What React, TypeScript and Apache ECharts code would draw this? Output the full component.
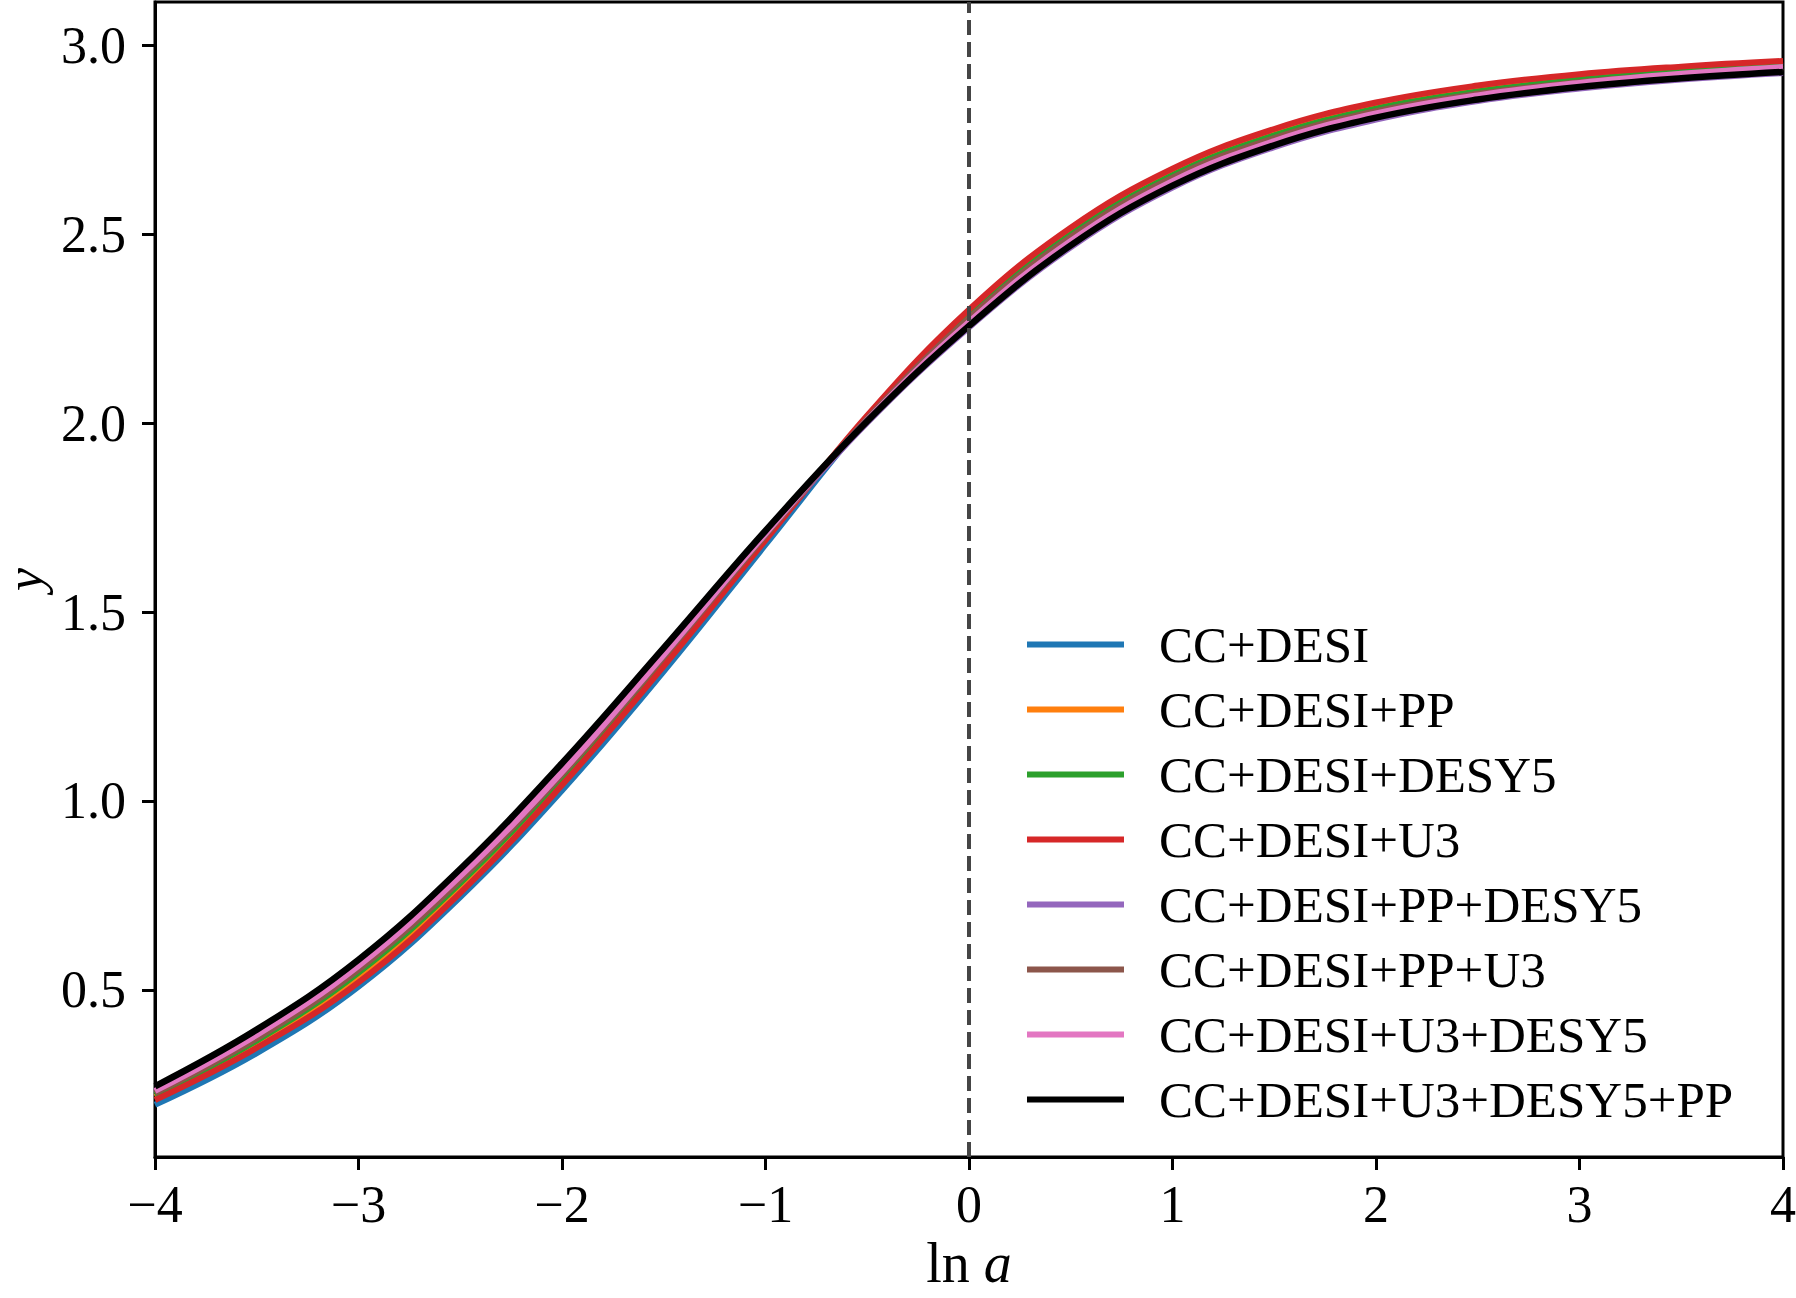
import React, { useEffect, useRef } from "react";
import * as echarts from "echarts";

// ln a sample points
const lnA = [-4, -3.5, -3, -2.5, -2, -1.5, -1, -0.5, 0, 0.5, 1, 1.5, 2, 2.5, 3, 3.5, 4];

// y values, one array per data combination
const ccDesi = [0.196, 0.333, 0.509, 0.746, 1.028, 1.343, 1.678, 2.012, 2.297, 2.514, 2.670, 2.775, 2.845, 2.890, 2.920, 2.940, 2.955];
const ccDesiPP = [0.217, 0.358, 0.535, 0.772, 1.054, 1.367, 1.696, 2.015, 2.288, 2.505, 2.662, 2.767, 2.838, 2.883, 2.914, 2.934, 2.949];
const ccDesiDESY5 = [0.222, 0.366, 0.546, 0.783, 1.063, 1.375, 1.700, 2.013, 2.283, 2.499, 2.656, 2.761, 2.832, 2.877, 2.908, 2.929, 2.944];
const ccDesiU3 = [0.209, 0.347, 0.520, 0.757, 1.042, 1.357, 1.690, 2.020, 2.300, 2.517, 2.673, 2.778, 2.848, 2.893, 2.923, 2.943, 2.958];
const ccDesiPPDESY5 = [0.232, 0.380, 0.563, 0.801, 1.079, 1.388, 1.705, 2.001, 2.253, 2.465, 2.623, 2.730, 2.803, 2.852, 2.885, 2.909, 2.926];
const ccDesiPPU3 = [0.227, 0.372, 0.554, 0.791, 1.070, 1.381, 1.703, 2.011, 2.277, 2.492, 2.649, 2.754, 2.825, 2.871, 2.902, 2.923, 2.939];
const ccDesiU3DESY5 = [0.233, 0.381, 0.564, 0.801, 1.077, 1.387, 1.707, 2.008, 2.267, 2.482, 2.640, 2.746, 2.819, 2.867, 2.900, 2.924, 2.942];
const ccDesiU3DESY5PP = [0.245, 0.395, 0.580, 0.820, 1.100, 1.405, 1.715, 2.005, 2.257, 2.470, 2.628, 2.735, 2.808, 2.856, 2.889, 2.912, 2.929];

const seriesNames = [
  "CC+DESI",
  "CC+DESI+PP",
  "CC+DESI+DESY5",
  "CC+DESI+U3",
  "CC+DESI+PP+DESY5",
  "CC+DESI+PP+U3",
  "CC+DESI+U3+DESY5",
  "CC+DESI+U3+DESY5+PP",
];
const seriesValues = [ccDesi, ccDesiPP, ccDesiDESY5, ccDesiU3, ccDesiPPDESY5, ccDesiPPU3, ccDesiU3DESY5, ccDesiU3DESY5PP];
const seriesColors = ["#1f77b4", "#ff7f0e", "#2ca02c", "#d62728", "#9467bd", "#8c564b", "#e377c2", "#000000"];

const yTicks = [0.5, 1.0, 1.5, 2.0, 2.5, 3.0];
const xMin = -4;
const xMax = 4;
const yMin = 0.058;
const yMax = 3.114;

const FONT = '"Liberation Serif", "DejaVu Serif", serif';

export default function App() {
  const ref = useRef<HTMLDivElement>(null);

  useEffect(() => {
    if (!ref.current) return;
    const chart = echarts.init(ref.current, null, { renderer: "svg" });

    const lineSeries = seriesNames.map((name, i) => ({
      type: "line",
      name,
      data: lnA.map((x, j) => [x, seriesValues[i][j]]),
      showSymbol: false,
      symbol: "none",
      smooth: 0.4,
      clip: true,
      itemStyle: { color: seriesColors[i] },
      lineStyle: { color: seriesColors[i], width: i === 7 ? 6.5 : 6 },
      emphasis: { disabled: true },
    }));

    const option = {
      animation: false,
      backgroundColor: "#ffffff",
      grid: {
        left: 155,
        right: 13,
        top: 2,
        bottom: 141,
        show: true,
        borderColor: "#000",
        borderWidth: 3,
        backgroundColor: "transparent",
        containLabel: false,
        outerBoundsMode: "none",
      },
      legend: {
        orient: "vertical",
        left: 1022,
        top: 614,
        icon: "rect",
        itemWidth: 97,
        itemHeight: 6,
        itemGap: 14,
        data: seriesNames,
        textStyle: {
          fontFamily: FONT,
          fontSize: 51,
          lineHeight: 50,
          color: "#000",
          padding: [0, 0, 0, 30],
        },
      },
      xAxis: {
        type: "value",
        min: xMin,
        max: xMax,
        interval: 1,
        axisLine: { show: true, onZero: false, lineStyle: { color: "#000", width: 3 } },
        axisTick: { show: true, inside: false, length: 13, lineStyle: { color: "#000", width: 3 } },
        axisLabel: {
          margin: 21,
          fontFamily: FONT,
          fontSize: 52,
          color: "#000",
          formatter: (v: number) => (v < 0 ? "\u2212" + Math.abs(v) : String(v)),
        },
        splitLine: { show: false },
        name: "{r|ln}{i|a}",
        nameLocation: "middle",
        nameGap: 84,
        nameTextStyle: {
          rich: {
            r: { fontFamily: FONT, fontSize: 56, color: "#000", lineHeight: 44 },
            i: { fontFamily: FONT, fontSize: 56, fontStyle: "italic", color: "#000", lineHeight: 44, padding: [0, 0, 0, 14] },
          },
        },
      },
      yAxis: {
        type: "value",
        min: yMin,
        max: yMax,
        axisLine: { show: true, onZero: false, lineStyle: { color: "#000", width: 3 } },
        axisTick: {
          show: true,
          inside: false,
          length: 13,
          customValues: yTicks,
          lineStyle: { color: "#000", width: 3 },
        },
        axisLabel: {
          margin: 29,
          fontFamily: FONT,
          fontSize: 52,
          color: "#000",
          customValues: yTicks,
          formatter: (v: number) => v.toFixed(1),
        },
        splitLine: { show: false },
        name: "y",
        nameLocation: "middle",
        nameGap: 86,
        nameRotate: 90,
        nameTextStyle: { fontFamily: FONT, fontSize: 52, fontStyle: "italic", color: "#000" },
      },
      series: [
        {
          type: "line",
          name: "zeroLine",
          data: [],
          silent: true,
          markLine: {
            silent: true,
            symbol: ["none", "none"],
            label: { show: false },
            lineStyle: { color: "#454545", width: 4, type: [15, 7] },
            emphasis: { disabled: true },
            data: [{ xAxis: 0 }],
          },
        },
        ...lineSeries,
      ],
    };

    chart.setOption(option as any);
    return () => chart.dispose();
  }, []);

  return (
    <div
      ref={ref}
      style={{ position: "fixed", left: 0, top: 0, width: 1796, height: 1298, background: "#fff" }}
    />
  );
}
